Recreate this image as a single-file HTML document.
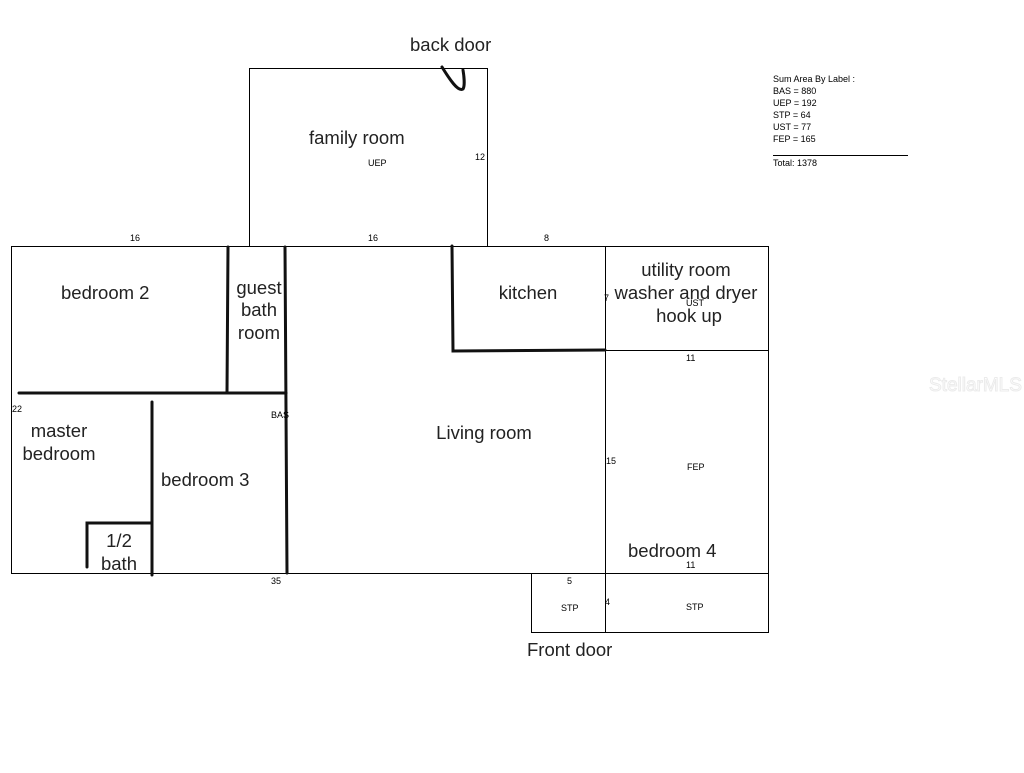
<!DOCTYPE html>
<html><head><style>
body{margin:0;background:#fff;}
svg text{font-family:"Liberation Sans",Arial,sans-serif;}
</style></head><body>
<svg width="1024" height="768" viewBox="0 0 1024 768" xmlns="http://www.w3.org/2000/svg">
<rect width="1024" height="768" fill="#fff"/>
<g fill="none" stroke="#000" stroke-width="1">
<rect x="11.5" y="246.5" width="594" height="327"/>
<rect x="249.5" y="68.5" width="238" height="178"/>
<rect x="605.5" y="246.5" width="163" height="104"/>
<rect x="605.5" y="350.5" width="163" height="223"/>
<rect x="531.5" y="573.5" width="74" height="59"/>
<rect x="605.5" y="573.5" width="163" height="59"/>
<line x1="773" y1="155.5" x2="908" y2="155.5"/>
</g>
<g fill="none" stroke="#111" stroke-width="3" stroke-linecap="round">
<line x1="228" y1="247" x2="227" y2="393"/>
<line x1="285" y1="247" x2="287" y2="573"/>
<line x1="19" y1="393" x2="286" y2="393"/>
<line x1="152" y1="402" x2="152" y2="575"/>
<polyline points="87,567 87,523 152,523"/>
<polyline points="452,246 453,351 605,350"/>
<path d="M442,67 C450,80 458,92 463,89 C465,86 464,76 463,70"/>
</g>
<g fill="#222" font-size="18.5">
<text x="410" y="51">back door</text>
<text x="309" y="144">family room</text>
<text x="61" y="299">bedroom 2</text>
<text x="259" y="294" text-anchor="middle">guest</text>
<text x="259" y="316" text-anchor="middle">bath</text>
<text x="259" y="339" text-anchor="middle">room</text>
<text x="528" y="299" text-anchor="middle">kitchen</text>
<text x="686" y="276" text-anchor="middle">utility room</text>
<text x="686" y="299" text-anchor="middle">washer and dryer</text>
<text x="689" y="322" text-anchor="middle">hook up</text>
<text x="59" y="437" text-anchor="middle">master</text>
<text x="59" y="460" text-anchor="middle">bedroom</text>
<text x="161" y="486">bedroom 3</text>
<text x="484" y="439" text-anchor="middle">Living room</text>
<text x="119" y="547" text-anchor="middle">1/2</text>
<text x="119" y="570" text-anchor="middle">bath</text>
<text x="628" y="557">bedroom 4</text>
<text x="527" y="656">Front door</text>
</g>
<g fill="#000" font-size="9">
<text x="368" y="166">UEP</text>
<text x="475" y="160">12</text>
<text x="130" y="241">16</text>
<text x="368" y="241">16</text>
<text x="544" y="241">8</text>
<text x="604" y="301">7</text>
<text x="686" y="306">UST</text>
<text x="686" y="361">11</text>
<text x="12" y="412">22</text>
<text x="271" y="418">BAS</text>
<text x="606" y="464">15</text>
<text x="687" y="470">FEP</text>
<text x="686" y="568">11</text>
<text x="271" y="584">35</text>
<text x="567" y="584">5</text>
<text x="605" y="605">4</text>
<text x="561" y="611">STP</text>
<text x="686" y="610">STP</text>
<text x="773" y="82">Sum Area By Label :</text>
<text x="773" y="94">BAS = 880</text>
<text x="773" y="106">UEP = 192</text>
<text x="773" y="118">STP = 64</text>
<text x="773" y="130">UST = 77</text>
<text x="773" y="142">FEP = 165</text>
<text x="773" y="166">Total: 1378</text>
</g>
<text x="929" y="391" font-size="19" fill="#fff" stroke="#ebebeb" stroke-width="1">StellarMLS</text>
</svg>
</body></html>
